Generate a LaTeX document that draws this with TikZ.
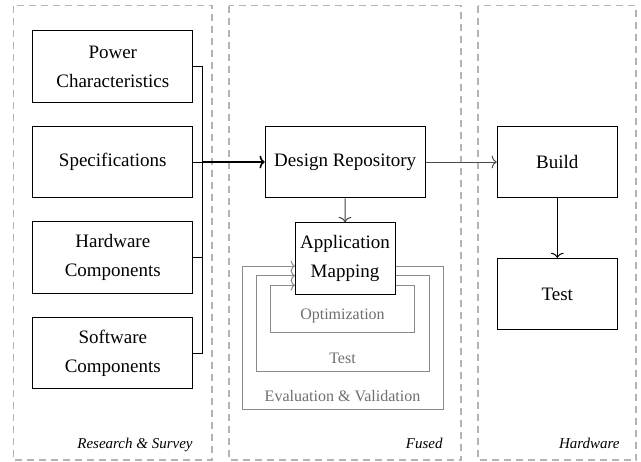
\documentclass[tikz,border=0pt]{standalone}
\usepackage{fontspec}
\setmainfont{Liberation Serif}
\usetikzlibrary{arrows.meta}
\definecolor{panelgray}{HTML}{B4B4B4}
\definecolor{loopgray}{HTML}{8A8A8A}
\definecolor{loopText}{HTML}{6E6E6E}
\tikzset{
  >={Computer Modern Rightarrow[length=2.6pt, width=6.4pt]},
  panel/.style={draw=panelgray, line width=0.55pt, dash pattern=on 3.5pt off 2.5pt},
  block/.style={draw, line width=0.5pt, minimum height=35.75pt, align=center, inner sep=2pt, font=\fontsize{9.5}{14.5}\selectfont},
  loopline/.style={draw=loopgray, line width=0.5pt, -{Computer Modern Rightarrow[length=2.2pt, width=5.4pt]}},
  looplabel/.style={text=loopText, font=\fontsize{8}{10}\selectfont},
  paneltitle/.style={anchor=base east, inner sep=0pt, font=\fontsize{7.5}{9}\selectfont\itshape},
  link/.style={->, line width=0.5pt},
}
\begin{document}
\begin{tikzpicture}[x=0.5pt, y=-0.5pt]
\useasboundingbox (0,0) rectangle (641,461);

% dashed stage panels
\draw[panel] (13.5,5.5) rectangle (212,460);
\draw[panel] (229,5.5) rectangle (461,460);
\draw[panel] (478,5.5) rectangle (636,460);

\node[paneltitle] (t1) at (193,448) {Research \& Survey};
\node[paneltitle] (t2) at (443,448) {Fused};
\node[paneltitle] (t3) at (620,448) {Hardware};

% research inputs
\node[block, minimum width=80pt] (pc) at (112.8,66.4) {Power\\Characteristics};
\node[block, minimum width=80pt] (sp) at (112.8,162) {Specifications};
\node[block, minimum width=80pt] (hw) at (112.8,257.5) {Hardware\\Components};
\node[block, minimum width=80pt] (sw) at (112.8,353.2) {Software\\Components};

% fused stage
\node[block, minimum width=80pt] (dr) at (345.2,162) {Design Repository};

% nested feedback loops around the mapping step
\draw[loopline] (395,266) -- (443.3,266) -- (443.3,409.3) -- (242,409.3) -- (242,266) -- (295,266);
\draw[loopline] (395,275.7) -- (429.3,275.7) -- (429.3,371) -- (256,371) -- (256,275.7) -- (295,275.7);
\draw[loopline] (395,285.3) -- (414.3,285.3) -- (414.3,332.7) -- (270.7,332.7) -- (270.7,285.3) -- (295,285.3);
\node[looplabel] (opt) at (342.5,316) {Optimization};
\node[looplabel] (tst) at (342.5,358) {Test};
\node[looplabel] (ev) at (342.5,396) {Evaluation \& Validation};

\node[block, minimum width=50pt, fill=white] (am) at (345,258.4) {Application\\Mapping};

% hardware stage
\node[block, minimum width=60pt] (build) at (557.3,162) {Build};
\node[block, minimum width=60pt] (test) at (557.3,294.2) {Test};

% connectors
\coordinate (j) at (202.7,162);
\draw[line width=0.5pt] (pc.east) -| (j);
\draw[line width=0.5pt] (hw.east) -| (j);
\draw[line width=0.5pt] (sw.east) -| (j);
\draw[line width=0.5pt] (sp.east) -- (j);
\draw[->, line width=0.8pt] (j) -- (dr.west);
\draw[link, draw=black!75] (dr.south) -- (am.north);
\draw[link, draw=black!70] (dr.east) -- (build.west);
\draw[link] (build.south) -- (test.north);
\end{tikzpicture}
\end{document}
